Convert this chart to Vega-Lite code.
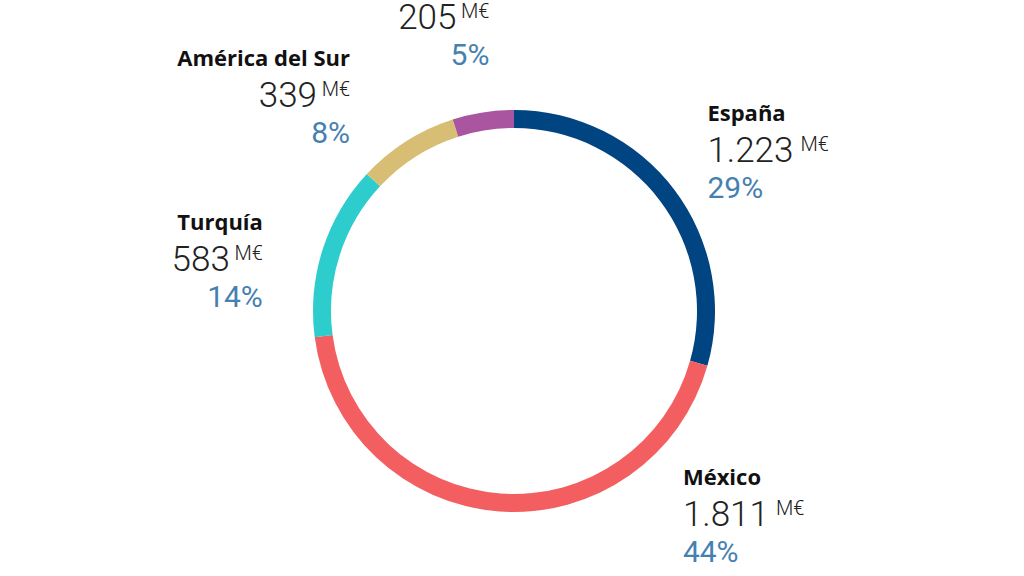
{
  "$schema": "https://vega.github.io/schema/vega-lite/v6.json",
  "width": 1020,
  "height": 530,
  "autosize": {"type": "none"},
  "padding": {"left": 4, "top": 46, "right": 0, "bottom": 0},
  "background": "white",
  "config": {
    "view": {"stroke": null},
    "locale": {"number": {"decimal": ",", "thousands": ".", "grouping": [3], "currency": ["", " €"]}}
  },
  "data": {
    "values": [
      {"rank": 1, "region": "España", "value": 1223, "pct": 0.29},
      {"rank": 2, "region": "México", "value": 1811, "pct": 0.44},
      {"rank": 3, "region": "Turquía", "value": 583, "pct": 0.14},
      {"rank": 4, "region": "América del Sur", "value": 339, "pct": 0.08},
      {"rank": 5, "region": "Resto de Eurasia", "value": 205, "pct": 0.05}
    ]
  },
  "encoding": {
    "theta": {"field": "value", "type": "quantitative", "stack": true},
    "order": {"field": "rank", "type": "quantitative"}
  },
  "layer": [
    {
      "mark": {"type": "arc", "outerRadius": 201, "innerRadius": 183, "stroke": null},
      "encoding": {
        "color": {
          "field": "region",
          "type": "nominal",
          "legend": null,
          "scale": {
            "domain": ["España", "México", "Turquía", "América del Sur", "Resto de Eurasia"],
            "range": ["#004481", "#f35e61", "#2dcccd", "#d8be75", "#a9559f"]
          }
        }
      }
    },
    {
      "mark": {
        "type": "text", "radius": 250, "baseline": "alphabetic",
        "font": "Open Sans", "fontWeight": 700, "fontSize": 22, "fill": "#111111",
        "align": {"expr": "datum.rank <= 2 ? 'left' : 'right'"},
        "dx": {"expr": "[-6, 187, -13, -30, 14][datum.rank - 1]"},
        "dy": {"expr": "[2, -34, 36, 7, -35][datum.rank - 1] - 41"}
      },
      "encoding": {
        "detail": {"field": "region"},
        "text": {"field": "region", "type": "nominal"}
      }
    },
    {
      "mark": {
        "type": "text", "radius": 250, "baseline": "alphabetic",
        "font": "Roboto", "fontWeight": 300, "fontSize": 35, "fill": "#222222",
        "align": {"expr": "datum.rank <= 2 ? 'left' : 'right'"},
        "dx": {"expr": "[-6, 187, -13, -30, 14][datum.rank - 1] + (datum.rank <= 2 ? 0 : -33)"},
        "dy": {"expr": "[2, -34, 36, 7, -35][datum.rank - 1]"}
      },
      "encoding": {
        "detail": {"field": "region"},
        "text": {"field": "value", "type": "quantitative", "format": ",d"}
      }
    },
    {
      "mark": {
        "type": "text", "radius": 250, "baseline": "alphabetic",
        "font": "Roboto", "fontWeight": 300, "fontSize": 20, "fill": "#222222",
        "text": "M€",
        "align": {"expr": "datum.rank <= 2 ? 'left' : 'right'"},
        "dx": {"expr": "[-6, 187, -13, -30, 14][datum.rank - 1] + [93, 93, 0, 0, 0][datum.rank - 1]"},
        "dy": {"expr": "[2, -34, 36, 7, -35][datum.rank - 1] - 11"}
      },
      "encoding": {
        "detail": {"field": "region"}
      }
    },
    {
      "mark": {
        "type": "text", "radius": 250, "baseline": "alphabetic",
        "font": "Roboto", "fontWeight": 400, "fontSize": 30, "fill": "#4581b0",
        "align": {"expr": "datum.rank <= 2 ? 'left' : 'right'"},
        "dx": {"expr": "[-6, 187, -13, -30, 14][datum.rank - 1]"},
        "dy": {"expr": "[2, -34, 36, 7, -35][datum.rank - 1] + 36"}
      },
      "encoding": {
        "detail": {"field": "region"},
        "text": {"field": "pct", "type": "quantitative", "format": ".0%"}
      }
    }
  ]
}
